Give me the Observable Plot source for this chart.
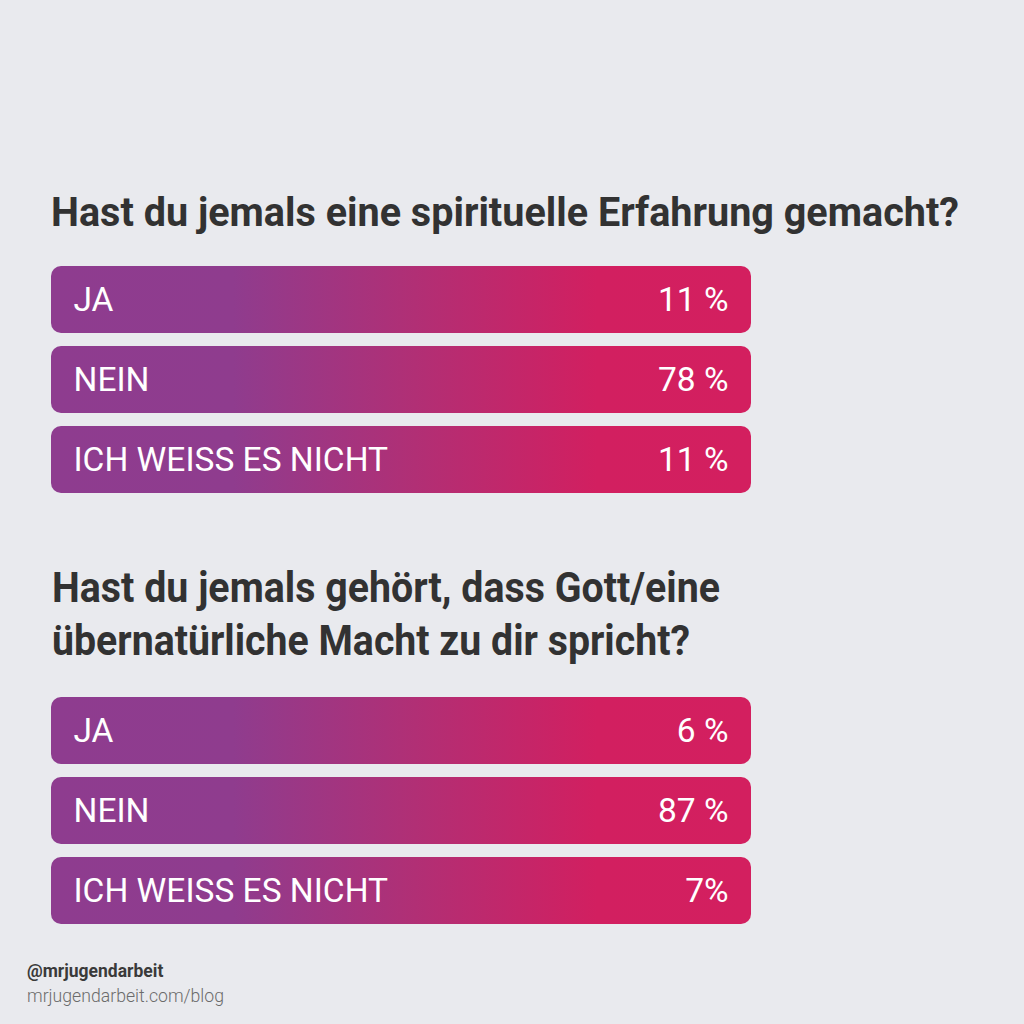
<!DOCTYPE html>
<html>
<head>
<meta charset="utf-8">
<script src="https://cdn.jsdelivr.net/npm/d3@7"></script>
<script src="https://cdn.jsdelivr.net/npm/@observablehq/plot@0.6"></script>
<style>
  html, body { margin: 0; padding: 0; }
  body {
    width: 1024px; height: 1024px; position: relative; overflow: hidden;
    background: #e9eaee; font-family: Roboto, "Noto Sans", sans-serif;
  }
  .t { position: absolute; white-space: nowrap; line-height: 1; transform-origin: 0 0; }
  .title { font-weight: 700; color: #323232; }
  .chart { position: absolute; left: 0; }
  .chart svg { display: block; }
</style>
</head>
<body>
<script>
// ---- data ----
const question1 = "Hast du jemals eine spirituelle Erfahrung gemacht?";
const question2Lines = ["Hast du jemals gehört, dass Gott/eine", "übernatürliche Macht zu dir spricht?"];
const answers = ["JA", "NEIN", "ICH WEISS ES NICHT"];
const values1 = [11, 78, 11];
const values2 = [6, 87, 7];
const valueLabels1 = ["11 %", "78 %", "11 %"];
const valueLabels2 = ["6 %", "87 %", "7%"];
const footerHandle = "@mrjugendarbeit";
const footerUrl = "mrjugendarbeit.com/blog";

// ---- helpers ----
function addText(text, opts) {
  const el = document.createElement("div");
  el.className = "t " + (opts.cls || "");
  el.textContent = text;
  el.style.fontSize = opts.size + "px";
  el.style.left = opts.left + "px";
  // line-height 1: baseline sits ~0.842em below the top for Roboto
  el.style.top = (opts.baseline - 0.842 * opts.size) + "px";
  if (opts.weight) el.style.fontWeight = opts.weight;
  if (opts.color) el.style.color = opts.color;
  document.body.appendChild(el);
  if (opts.width) {
    const w = el.getBoundingClientRect().width;
    el.style.transform = `scaleX(${opts.width / w})`;
  }
  return el;
}

function pollChart(values, labels, id, top) {
  const data = answers.map((a, i) => ({answer: a, value: values[i], label: labels[i]}));
  const svg = Plot.plot({
    width: 1024,
    height: 227,
    marginLeft: 51,
    marginRight: 273,
    marginTop: 0,
    marginBottom: 0,
    x: {domain: [0, 100], axis: null},
    y: {domain: answers, axis: null, paddingInner: 13 / 80, paddingOuter: 0},
    style: {background: "transparent", overflow: "visible"},
    marks: [
      Plot.barX(data, {y: "answer", x1: 0, x2: 100, fill: `url(#${id})`, rx: 10}),
      Plot.text(data, {
        y: "answer", x: 0, text: "answer", textAnchor: "start", dx: 22,
        fill: "white", fontSize: 33.5, fontFamily: "Roboto", fontWeight: 400
      }),
      Plot.text(data, {
        y: "answer", x: 100, text: "label", textAnchor: "end", dx: -23,
        fill: "white", fontSize: 33.5, fontFamily: "Roboto", fontWeight: 400
      })
    ]
  });
  const defs = d3.select(svg).insert("defs", ":first-child");
  const g = defs.append("linearGradient").attr("id", id)
    .attr("x1", "0").attr("x2", "1").attr("y1", "0").attr("y2", "0");
  [[0, "#8e3c8f"], [0.26, "#8f3c8e"], [0.52, "#b12f75"], [0.78, "#d21f60"], [1, "#d31f5f"]]
    .forEach(([o, c]) => g.append("stop").attr("offset", o).attr("stop-color", c));
  const wrap = document.createElement("div");
  wrap.className = "chart";
  wrap.style.top = top + "px";
  wrap.appendChild(svg);
  document.body.appendChild(wrap);
}

// ---- section 1 ----
addText(question1, {cls: "title", size: 41, left: 51, baseline: 227, width: 908});
pollChart(values1, valueLabels1, "grad1", 266);

// ---- section 2 ----
addText(question2Lines[0], {cls: "title", size: 42, left: 52, baseline: 602, width: 668});
addText(question2Lines[1], {cls: "title", size: 42, left: 52, baseline: 655, width: 638});
pollChart(values2, valueLabels2, "grad2", 697);

// ---- footer ----
addText(footerHandle, {size: 17.5, left: 27, baseline: 978, weight: 700, color: "#3a3a3a"});
addText(footerUrl, {size: 17.5, left: 27, baseline: 1003, weight: 300, color: "#6b6b6b", width: 197});
</script>
</body>
</html>
